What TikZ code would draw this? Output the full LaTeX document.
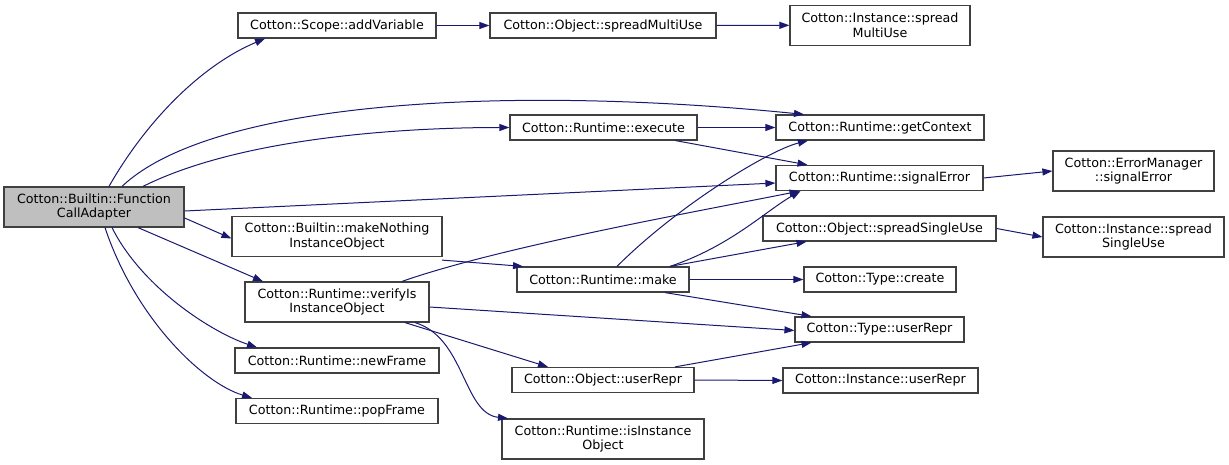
\documentclass[tikz,border=0pt]{standalone}
\usepackage{fontspec}
\setmainfont{DejaVu Sans}
\usetikzlibrary{arrows.meta}
\definecolor{edgeblue}{HTML}{191970}
\definecolor{rootgray}{HTML}{BFBFBF}
\tikzset{
  fn/.style={draw=black!75, fill=white, line width=1.2pt, inner sep=0pt, align=center,
    font=\fontsize{12.7}{14.5}\selectfont, anchor=center},
  root/.style={fn, fill=rootgray},
  call/.style={draw=edgeblue, line width=1pt, -{Triangle[length=10pt,width=7pt]}},
}
\begin{document}
\begin{tikzpicture}[x=1pt,y=-1pt]
\useasboundingbox (0,0) rectangle (1229,465);
% nodes
\node[root, minimum width=180pt, minimum height=40pt] (fca) at (94,207) {Cotton::Builtin::Function\\CallAdapter};
\node[fn, minimum width=198pt, minimum height=25pt] (addvar) at (337,25.5) {Cotton::Scope::addVariable};
\node[fn, minimum width=226pt, minimum height=25pt] (osmu) at (603,25.5) {Cotton::Object::spreadMultiUse};
\node[fn, minimum width=180pt, minimum height=40pt] (ismu) at (880,25.3) {Cotton::Instance::spread\\MultiUse};
\node[fn, minimum width=187pt, minimum height=25pt] (exec) at (603.5,127.5) {Cotton::Runtime::execute};
\node[fn, minimum width=208pt, minimum height=25pt] (getctx) at (880,127.5) {Cotton::Runtime::getContext};
\node[fn, minimum width=207pt, minimum height=25pt] (sigerr) at (879.5,178) {Cotton::Runtime::signalError};
\node[fn, minimum width=161pt, minimum height=40pt] (emsig) at (1133.5,171) {Cotton::ErrorManager\\::signalError};
\node[fn, minimum width=210pt, minimum height=40pt] (mknoth) at (337,236.5) {Cotton::Builtin::makeNothing\\InstanceObject};
\node[fn, minimum width=184pt, minimum height=40pt] (verify) at (337,302) {Cotton::Runtime::verifyIs\\InstanceObject};
\node[fn, minimum width=172pt, minimum height=25pt] (make) at (603,279.5) {Cotton::Runtime::make};
\node[fn, minimum width=233pt, minimum height=25pt] (ossu) at (879.5,228.5) {Cotton::Object::spreadSingleUse};
\node[fn, minimum width=181pt, minimum height=40pt] (issu) at (1133.5,237) {Cotton::Instance::spread\\SingleUse};
\node[fn, minimum width=152pt, minimum height=25pt] (tcreate) at (880,279.5) {Cotton::Type::create};
\node[fn, minimum width=169pt, minimum height=25pt] (turepr) at (879.5,329.5) {Cotton::Type::userRepr};
\node[fn, minimum width=204pt, minimum height=25pt] (newfr) at (337,360.5) {Cotton::Runtime::newFrame};
\node[fn, minimum width=202pt, minimum height=25pt] (popfr) at (337,411) {Cotton::Runtime::popFrame};
\node[fn, minimum width=182pt, minimum height=25pt] (ourepr) at (603,380) {Cotton::Object::userRepr};
\node[fn, minimum width=202pt, minimum height=40pt] (isinst) at (603,439) {Cotton::Runtime::isInstance\\Object};
\node[fn, minimum width=195pt, minimum height=25pt] (iurepr) at (880.5,380.5) {Cotton::Instance::userRepr};
% edges from root
\draw[call] ([xshift=15pt]fca.north) .. controls +(40,-70) and +(-60,25) .. ([xshift=-72pt]addvar.south);
\draw[call] ([xshift=28pt]fca.north) .. controls +(90,-85) and +(-300,-30) .. ([xshift=-76pt]getctx.north);
\draw[call] ([xshift=49pt]fca.north) .. controls +(100,-50) and +(-100,0) .. (exec.west);
\draw[call] ([yshift=-4pt]fca.east) -- ([yshift=-5pt]sigerr.west);
\draw[call] ([yshift=-11pt]fca.east) -- ([yshift=-2pt]mknoth.west);
\draw[call] ([xshift=44pt]fca.south) -- ([xshift=-74pt]verify.north);
\draw[call] ([xshift=18pt]fca.south) .. controls +(30,60) and +(-45,-15) .. ([xshift=-80pt]newfr.north);
\draw[call] ([xshift=11pt]fca.south) .. controls +(30,90) and +(-50,-15) .. ([xshift=-85pt]popfr.north);
% other edges
\draw[call] (addvar.east) -- (osmu.west);
\draw[call] (osmu.east) -- (ismu.west);
\draw[call] (exec.east) -- (getctx.west);
\draw[call] ([xshift=72pt]exec.south) -- ([xshift=-72pt]sigerr.north);
\draw[call] (sigerr.east) -- (emsig.west);
\draw[call] ([xshift=105pt,yshift=-3pt]mknoth.south) -- ([xshift=-80pt]make.north);
\draw[call] ([xshift=65pt]verify.north) .. controls +(100,-35) and +(-100,20) .. ([xshift=-80pt]sigerr.south);
\draw[call] ([yshift=-5pt]verify.east) -- ([yshift=-1pt]turepr.west);
\draw[call] ([xshift=68pt]verify.south) -- ([xshift=-55pt]ourepr.north);
\draw[call] ([xshift=78pt]verify.south) .. controls +(50,15) and +(-45,-5) .. ([xshift=-95pt]isinst.north);
\draw[call] ([xshift=14pt]make.north) .. controls +(60,-60) and +(-40,10) .. ([xshift=-72pt]getctx.south);
\draw[call] ([xshift=67pt]make.north) .. controls +(60,-20) and +(-35,20) .. ([xshift=-79pt]sigerr.south);
\draw[call] ([xshift=67pt]make.north) -- ([xshift=-73pt]ossu.south);
\draw[call] (make.east) -- (tcreate.west);
\draw[call] ([xshift=62pt]make.south) -- ([xshift=-68pt]turepr.north);
\draw[call] ([xshift=72pt]ourepr.north) -- ([xshift=-68pt]turepr.south);
\draw[call] (ourepr.east) -- (iurepr.west);
\draw[call] (ossu.east) -- (issu.west);
\end{tikzpicture}
\end{document}
